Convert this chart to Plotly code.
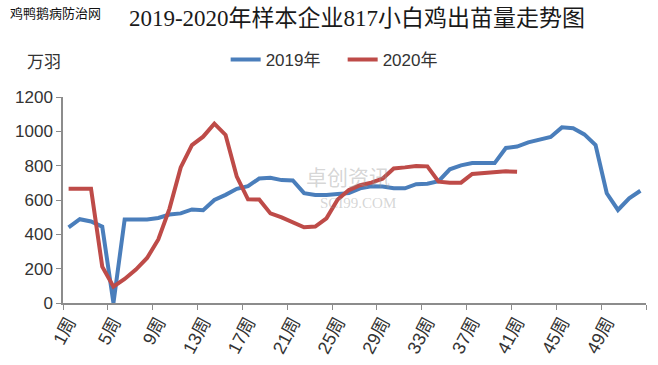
import plotly.graph_objects as go

weeks = list(range(1, 53))
tick_weeks = list(range(1, 53, 4))
tick_labels = [f"{w}周" for w in tick_weeks]

series_2019 = [440, 488, 475, 445, 0, 487, 487, 487, 495, 515, 522, 545, 540,
               600, 630, 665, 681, 725, 730, 716, 714, 640, 629, 629, 635, 640,
               668, 680, 678, 668, 668, 692, 695, 710, 779, 802, 815, 815, 815,
               903, 911, 936, 950, 967, 1023, 1018, 982, 920, 639, 542, 610, 654]

series_2020 = [666, 666, 666, 212, 95, 140, 195, 262, 370, 550, 790, 920, 969,
               1045, 979, 736, 604, 603, 522, 499, 470, 441, 445, 493, 603, 658,
               686, 701, 724, 784, 790, 798, 796, 707, 701, 701, 752, 756, 765,
               767, 765] + [None] * 11

boundaries = [w - 0.5 for w in range(1, 54, 4)]

BLUE = "#4A7EBB"
RED = "#BE4B48"
AXIS = "#8C8C8C"
LATIN = "Liberation Sans, Arial, Noto Sans CJK SC"
CJK = "Noto Sans CJK SC, Liberation Sans"

fig = go.Figure()
fig.add_trace(go.Scatter(x=weeks, y=series_2019, mode="lines", name="2019年",
                         line=dict(color=BLUE, width=4)))
fig.add_trace(go.Scatter(x=weeks, y=series_2020, mode="lines", name="2020年",
                         line=dict(color=RED, width=4)))

fig.update_layout(
    width=658, height=365,
    margin=dict(l=63, r=12, t=97, b=62, autoexpand=False),
    paper_bgcolor="white", plot_bgcolor="white",
    showlegend=True,
    legend=dict(orientation="h", x=0.279, xanchor="left", y=1.18, yanchor="middle",
                font=dict(family=LATIN, size=17, color="#333333"),
                bgcolor="rgba(0,0,0,0)", entrywidth=72, entrywidthmode="pixels",
                tracegroupgap=0),
    title=dict(text="2019-2020年样本企业817小白鸡出苗量走势图",
               x=357 / 658, xanchor="center", xref="container",
               y=1 - 18 / 365, yanchor="middle", yref="container",
               font=dict(family="Liberation Serif, Noto Sans CJK SC", size=23, color="#1a1a1a")),
)

fig.update_xaxes(
    range=[0.5, 52.5], tickmode="array", tickvals=tick_weeks, ticktext=tick_labels,
    tickangle=-62, ticks="", showgrid=False, zeroline=False, automargin=False,
    showline=True, linecolor=AXIS, linewidth=1.5,
    tickfont=dict(family=LATIN, size=18, color="#333333"),
    minor=dict(tickmode="array", tickvals=boundaries, ticks="outside", ticklen=5,
               tickcolor=AXIS, tickwidth=1.2, showgrid=False),
)
fig.update_yaxes(
    range=[0, 1200], dtick=200, tick0=0, ticks="outside", ticklen=5, tickcolor=AXIS,
    showgrid=False, zeroline=False, showline=True, linecolor=AXIS, linewidth=1.5,
    automargin=False,
    tickfont=dict(family=LATIN, size=17, color="#333333"),
)

fig.add_annotation(text="鸡鸭鹅病防治网", xref="paper", yref="paper",
                   x=-55 / 583, y=1 + (97 - 13) / 206, xanchor="left", yanchor="middle",
                   showarrow=False, font=dict(family=CJK, size=13, color="#111111"))
fig.add_annotation(text="万羽", xref="paper", yref="paper",
                   x=(25 - 63) / 583, y=1 + (97 - 60) / 206, xanchor="left", yanchor="middle",
                   showarrow=False, font=dict(family=CJK, size=17, color="#333333"))
fig.add_annotation(text="卓创资讯", xref="paper", yref="paper",
                   x=(348 - 63) / 583, y=(303 - 193) / 206, xanchor="center", yanchor="bottom",
                   showarrow=False, font=dict(family=CJK, size=21, color="rgba(150,150,150,0.4)"))
fig.add_annotation(text="SCI99.COM", xref="paper", yref="paper",
                   x=(358 - 63) / 583, y=(303 - 193) / 206, xanchor="center", yanchor="top",
                   showarrow=False, font=dict(family="Liberation Serif", size=15, color="rgba(150,150,150,0.4)"))

fig.write_html("out.html",
               config={"displayModeBar": False},
               post_script="document.body.style.margin='0';document.body.style.overflow='hidden';")
